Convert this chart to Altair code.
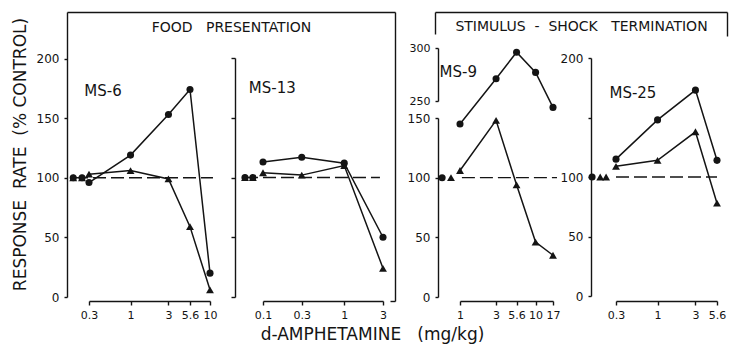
import altair as alt
import pandas as pd

# ---------------- data ----------------
control_rate = 100

# FOOD PRESENTATION
ms6_dose = [0.3, 1, 3, 5.6, 10]
ms6_circle = [96, 119, 153, 174, 20]
ms6_triangle = [103, 106, 99, 59, 6]
ms6_ctrl_circle = [0.19, 0.245]
ms6_ctrl_triangle = [0.19, 0.245]

ms13_dose = [0.1, 0.3, 1, 3]
ms13_circle = [113, 117, 112, 50]
ms13_triangle = [104, 102, 110, 24]
ms13_ctrl_circle = [0.06, 0.075]
ms13_ctrl_triangle = [0.06, 0.075]

# STIMULUS - SHOCK TERMINATION
ms9_dose = [1, 3, 5.6, 10, 17]
ms9_circle = [145, 271, 296, 277, 244]
ms9_triangle = [106, 148, 94, 46, 35]
ms9_ctrl_circle = [0.58]
ms9_ctrl_triangle = [0.76]

ms25_dose = [0.3, 1, 3, 5.6]
ms25_circle = [115, 148, 173, 114]
ms25_triangle = [109, 114, 138, 78]
ms25_ctrl_circle = [0.15]
ms25_ctrl_triangle = [0.19, 0.225]

ms6_ticks = [0.3, 1, 3, 5.6, 10]
ms13_ticks = [0.1, 0.3, 1, 3]
ms9_ticks = [1, 3, 5.6, 10, 17]
ms25_ticks = [0.3, 1, 3, 5.6]
y_ticks = [0, 50, 100, 150, 200]
y_ticks_low = [0, 50, 100, 150]
y_ticks_up = [250, 300]

NB = "\u00a0"
y_title = f"RESPONSE{NB}{NB}RATE{NB}{NB}(%{NB}CONTROL)"
x_title = f"d-AMPHETAMINE{NB}{NB}{NB}(mg/kg)"
food_title = f"FOOD{NB}{NB}{NB}PRESENTATION"
stim_title = f"STIMULUS{NB}{NB}-{NB}{NB}SHOCK{NB}{NB}{NB}TERMINATION"

# ---------------- styling ----------------
INK = "#141414"
FONT = "DejaVu Sans"
LINE_W = 1.5


def xaxis(ticks, **kw):
    base = dict(orient="bottom", offset=-50, values=ticks, format="~g", title=None,
                tickSize=4, labelPadding=4, labelOverlap=False, labelFlush=False,
                labelFontSize=11, grid=False)
    base.update(kw)
    return alt.Axis(**base)


def yaxis(offset, ticks, **kw):
    base = dict(orient="left", offset=offset, values=ticks, tickSize=3, labelPadding=5,
                labelOverlap=False, labelFlush=False, labelFontSize=12, grid=False, title=None)
    base.update(kw)
    return alt.Axis(**base)


def panel(xs, xa, ys, ya, series, ctrls, ref=None, label=None):
    X = lambda f: alt.X(f"{f}:Q", scale=xs, axis=xa)
    Y = lambda f: alt.Y(f"{f}:Q", scale=ys, axis=ya)
    layers = []
    if ref is not None:
        rdf = pd.DataFrame({"x1": [ref[0]], "x2": [ref[1]], "y": [control_rate]})
        layers.append(alt.Chart(rdf).mark_rule(color=INK, strokeWidth=1.3, strokeDash=[13, 5])
                      .encode(x=X("x1"), x2=alt.X2("x2:Q"), y=Y("y")))
    for dose, vals, shape in series:
        df = pd.DataFrame({"dose": dose, "val": vals})
        layers.append(alt.Chart(df).mark_line(color=INK, strokeWidth=LINE_W)
                      .encode(x=X("dose"), y=Y("val")))
        layers.append(alt.Chart(df).mark_point(shape=shape, filled=True, opacity=1, color=INK,
                                               size=50 if shape == "circle" else 62)
                      .encode(x=X("dose"), y=Y("val")))
    for pos, shape in ctrls:
        cdf = pd.DataFrame({"dose": pos, "val": [control_rate] * len(pos)})
        layers.append(alt.Chart(cdf).mark_point(shape=shape, filled=True, opacity=1, color=INK,
                                                size=50 if shape == "circle" else 62)
                      .encode(x=X("dose"), y=Y("val")))
    if label is not None:
        ldf = pd.DataFrame({"dose": [label[1]], "val": [label[2]], "t": [label[0]]})
        layers.append(alt.Chart(ldf).mark_text(font=FONT, fontSize=15, color=INK)
                      .encode(x=X("dose"), y=Y("val"), text="t:N"))
    return alt.layer(*layers)


# ---------------- panels ----------------
xs1 = alt.Scale(type="log", domain=[0.3, 10], range=[89, 210], nice=False)
ys1 = alt.Scale(domain=[0, 239], range=[297, 12], nice=False, zero=False)
p1 = panel(xs1, xaxis(ms6_ticks),
           ys1, yaxis(-67, y_ticks, title=y_title, titleX=-47, titleY=154,
                      titleAngle=270, titleAlign="center", titleBaseline="middle", titleFontSize=17),
           [(ms6_dose, ms6_circle, "circle"), (ms6_dose, ms6_triangle, "triangle-up")],
           [(ms6_ctrl_circle, "circle"), (ms6_ctrl_triangle, "triangle-up")],
           ref=(0.2, 10.9), label=("MS-6", 0.45, 173))

xs2 = alt.Scale(type="log", domain=[0.1, 3], range=[263, 383], nice=False)
ys2 = alt.Scale(domain=[0, 200], range=[297, 58], nice=False, zero=False)
p2 = panel(xs2, xaxis(ms13_ticks, title=x_title, titleX=372, titleY=33,
                      titleFontSize=17, titleBaseline="middle"),
           ys2, yaxis(-235, y_ticks, labels=False, tickSize=4),
           [(ms13_dose, ms13_circle, "circle"), (ms13_dose, ms13_triangle, "triangle-up")],
           [(ms13_ctrl_circle, "circle"), (ms13_ctrl_triangle, "triangle-up")],
           ref=(0.06, 2.75), label=("MS-13", 0.13, 175))

xs3 = alt.Scale(type="log", domain=[1, 17], range=[460, 553], nice=False)
ys3_low = alt.Scale(domain=[0, 150], range=[297, 118], nice=False, zero=False)
ys3_break = alt.Scale(domain=[0, 150, 234, 300], range=[297, 118, 118, 48], nice=False, zero=False)
p3_low = panel(xs3, xaxis(ms9_ticks), ys3_low, yaxis(-438, y_ticks_low),
               [(ms9_dose, ms9_triangle, "triangle-up")],
               [(ms9_ctrl_triangle, "triangle-up")], ref=(1.06, 19.2))
p3_high = panel(xs3, None, ys3_break, None,
                [(ms9_dose, ms9_circle, "circle")],
                [(ms9_ctrl_circle, "circle")], label=("MS-9", 0.95, 277))
p3_upper_axis = alt.Chart(pd.DataFrame({"v": y_ticks_up})).mark_point(opacity=0).encode(
    y=alt.Y("v:Q", scale=alt.Scale(domain=[250, 300], range=[101, 48], nice=False, zero=False),
            axis=yaxis(-438, y_ticks_up, labelFontSize=11)))

xs4 = alt.Scale(type="log", domain=[0.3, 5.6], range=[616, 717], nice=False)
ys4 = alt.Scale(domain=[0, 200], range=[296, 58], nice=False, zero=False)
p4 = panel(xs4, xaxis(ms25_ticks),
           ys4, yaxis(-591, y_ticks, labelExpr="datum.value == 150 ? '' : datum.label"),
           [(ms25_dose, ms25_circle, "circle"), (ms25_dose, ms25_triangle, "triangle-up")],
           [(ms25_ctrl_circle, "circle"), (ms25_ctrl_triangle, "triangle-up")],
           ref=(0.3, 5.6), label=("MS-25", 0.49, 171))

# ---------------- condition boxes (drawn as axis lines) ----------------
unit = pd.DataFrame({"a": [0.5], "b": [0.5]})
food_box = alt.Chart(unit).mark_point(opacity=0).encode(
    x=alt.X("a:Q", scale=alt.Scale(domain=[0, 1], range=[67, 395], nice=False),
            axis=alt.Axis(orient="top", offset=-12, ticks=False, labels=False, grid=False,
                          title=food_title, titleY=15, titleBaseline="middle",
                          titleFontSize=14)),
    y=alt.Y("b:Q", scale=alt.Scale(domain=[0, 1], range=[301, 12], nice=False, zero=False),
            axis=alt.Axis(orient="left", offset=-395, values=[0], labels=False, tickSize=5,
                          grid=False, title=None)))
stim_box = alt.Chart(unit).mark_point(opacity=0).encode(
    x=alt.X("a:Q", scale=alt.Scale(domain=[0, 1], range=[435, 727], nice=False),
            axis=alt.Axis(orient="top", offset=-12, ticks=False, labels=False, grid=False,
                          title=stim_title, titleY=14,
                          titleBaseline="middle", titleFontSize=14)),
    y=alt.Y("b:Q", scale=alt.Scale(domain=[0, 1], range=[34, 12], nice=False, zero=False),
            axis=alt.Axis(orient="left", offset=-435, ticks=False, labels=False, grid=False,
                          title=None)))
stim_right = alt.Chart(unit).mark_point(opacity=0).encode(
    y=alt.Y("b:Q", scale=alt.Scale(domain=[0, 1], range=[36, 12], nice=False, zero=False),
            axis=alt.Axis(orient="left", offset=-727, ticks=False, labels=False, grid=False,
                          title=None)))

chart = (
    alt.layer(p1, p2, p3_low, p3_high, p3_upper_axis, p4, food_box, stim_box, stim_right)
    .resolve_scale(x="independent", y="independent")
    .properties(width=729, height=351, padding=0, autosize=alt.AutoSizeParams(type="none"),
                background="white")
    .configure_view(stroke=None)
    .configure_axis(labelFont=FONT, titleFont=FONT, labelColor=INK, titleColor=INK,
                    domainColor=INK, tickColor=INK, domainWidth=1.4, tickWidth=1.4,
                    titleFontWeight="normal")
)

chart.save("out.html", embed_options={"renderer": "svg", "actions": False})
